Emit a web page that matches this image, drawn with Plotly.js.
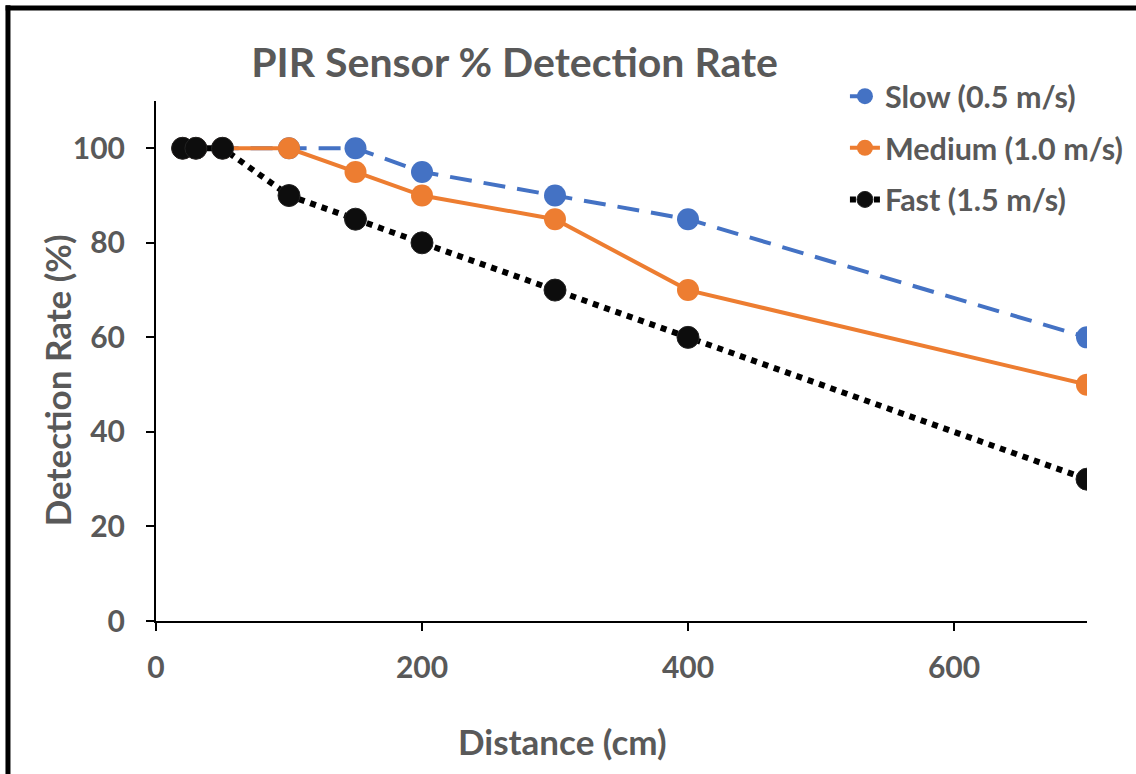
<!DOCTYPE html>
<html>
<head>
<meta charset="utf-8">
<script src="https://cdn.plot.ly/plotly-3.0.1.min.js"></script>
<style>html,body{margin:0;padding:0;background:#fff;}#chart{width:1136px;height:774px;}</style>
</head>
<body>
<div id="chart"></div>
<script>
const distance = [20, 30, 50, 100, 150, 200, 300, 400, 700];
const slow = [100, 100, 100, 100, 100, 95, 90, 85, 60];
const medium = [100, 100, 100, 100, 95, 90, 85, 70, 50];
const fast = [100, 100, 100, 90, 85, 80, 70, 60, 30];
const seriesNames = ["Slow (0.5 m/s)", "Medium (1.0 m/s)", "Fast (1.5 m/s)"];
const xTicks = [0, 200, 400, 600];
const yTicks = [0, 20, 40, 60, 80, 100];
const xTitle = "Distance (cm)";
const yTitle = "Detection Rate (%)";

const gray = "#595959";
const fontFam = "Lato, 'Open Sans', sans-serif";

const traces = [
  {x: distance, y: slow, name: seriesNames[0], mode: "lines+markers", legendgroup: "a",
   line: {color: "#4472C4", width: 4, dash: "22px,12px"},
   marker: {color: "#4472C4", size: 22}},
  {x: distance, y: medium, name: seriesNames[1], mode: "lines+markers", legendgroup: "b",
   line: {color: "#ED7D31", width: 4},
   marker: {color: "#ED7D31", size: 22}},
  {x: distance, y: fast, name: seriesNames[2], mode: "lines+markers", legendgroup: "c",
   line: {color: "#000000", width: 6, dash: "6px,6px"},
   marker: {color: "#0d0d0d", size: 22, line: {color: "#222", width: 1}}}
];

const layout = {
  width: 1136, height: 774,
  margin: {l: 156, r: 49, t: 101, b: 153, pad: 0, autoexpand: false},
  paper_bgcolor: "#fff", plot_bgcolor: "#fff",
  font: {family: fontFam, color: gray},
  title: {text: "<b>PIR Sensor % Detection Rate</b>", xref: "container", yref: "container",
          x: 0.453, xanchor: "center", y: 0.919, yanchor: "middle",
          font: {size: 41, color: gray, family: fontFam}},
  xaxis: {range: [0, 700], tickvals: xTicks, ticktext: xTicks.map(String),
          showgrid: false, zeroline: false, showline: true, linecolor: "#000", linewidth: 2,
          ticks: "outside", ticklen: 8, tickwidth: 2, tickcolor: "#000",
          ticklabelstandoff: 11, automargin: false,
          tickfont: {size: 30, color: gray, family: fontFam, weight: "bold"}},
  yaxis: {range: [0, 110], tickvals: yTicks, ticktext: yTicks.map(String),
          showgrid: false, zeroline: false, showline: true, linecolor: "#000", linewidth: 2,
          ticks: "outside", ticklen: 8, tickwidth: 2, tickcolor: "#000",
          ticklabelstandoff: 15, automargin: false,
          tickfont: {size: 30, color: gray, family: fontFam, weight: "bold"}},
  annotations: [
    {text: "<b>" + xTitle + "</b>", xref: "paper", yref: "paper", x: 0.437, y: -0.23,
     xanchor: "center", yanchor: "middle", showarrow: false,
     font: {size: 35, color: gray, family: fontFam}},
    {text: "<b>" + yTitle + "</b>", xref: "paper", yref: "paper", x: -0.106, y: 0.4635,
     xanchor: "center", yanchor: "middle", showarrow: false, textangle: -90,
     font: {size: 35, color: gray, family: fontFam}}
  ],
  legend: {x: 0.74, y: 1.06, xanchor: "left", yanchor: "top", tracegroupgap: 9,
           font: {size: 30.5, color: gray, family: fontFam, weight: "bold"}, bgcolor: "rgba(0,0,0,0)"},
  showlegend: true,
  shapes: [
    {type: "line", xref: "paper", yref: "paper", x0: -0.159, x1: -0.159, y0: -0.4, y1: 1.184,
     line: {color: "#000", width: 5}},
    {type: "line", xref: "paper", yref: "paper", x0: -0.1615, x1: 1.1, y0: 1.179, y1: 1.179,
     line: {color: "#000", width: 5}}
  ]
};

Plotly.newPlot("chart", traces, layout, {displayModeBar: false, staticPlot: true});
</script>
</body>
</html>
